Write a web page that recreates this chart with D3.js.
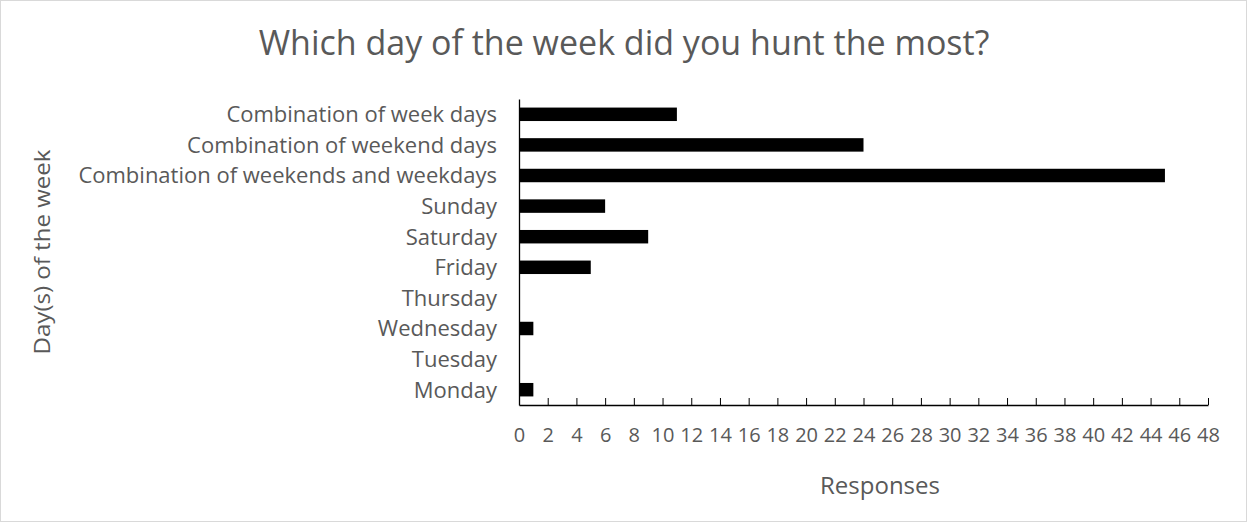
<!DOCTYPE html>
<html>
<head>
<meta charset="utf-8">
<script src="https://cdn.jsdelivr.net/npm/d3@7"></script>
<style>
  html, body { margin: 0; padding: 0; background: #fff; }
  svg { display: block; font-family: "Open Sans", sans-serif; }
  .lbl { fill: #595959; }
</style>
</head>
<body>
<svg id="chart" width="1247" height="522"></svg>
<script>
  // veriler
  const categories = [
    "Combination of week days",
    "Combination of weekend days",
    "Combination of weekends and weekdays",
    "Sunday",
    "Saturday",
    "Friday",
    "Thursday",
    "Wednesday",
    "Tuesday",
    "Monday "
  ];
  const responses = [11, 24, 45, 6, 9, 5, 0, 1, 0, 1];
  const xTicks = d3.range(0, 49, 2);

  const W = 1247, H = 522;
  const plotL = 519, plotR = 1208, plotT = 99, plotB = 405;

  const svg = d3.select("#chart");

  // dış çerçeve
  svg.append("rect")
    .attr("x", 0.5).attr("y", 0.5)
    .attr("width", W - 1).attr("height", H - 1)
    .attr("fill", "#fff")
    .attr("stroke", "#d9d9d9");

  const x = d3.scaleLinear().domain([0, 48]).range([plotL, plotR]);
  const y = d3.scaleBand().domain(categories).range([plotT, plotB]).paddingInner(0.56).paddingOuter(0.28);

  // çubuklar
  svg.append("g").selectAll("rect")
    .data(categories.map((c, i) => ({ c, v: responses[i] })))
    .join("rect")
    .attr("x", x(0))
    .attr("y", (d) => y(d.c))
    .attr("width", (d) => x(d.v) - x(0))
    .attr("height", y.bandwidth())
    .attr("fill", "#000");

  // x ekseni: içe dönük küçük çentikler
  const xAxis = svg.append("g")
    .attr("transform", `translate(0,${plotB})`)
    .call(d3.axisBottom(x).tickValues(xTicks).tickSizeInner(-7).tickSizeOuter(0).tickPadding(23));
  xAxis.select(".domain").attr("stroke", "#000").attr("stroke-width", 1.3);
  xAxis.selectAll(".tick line").attr("stroke", "#000");
  xAxis.selectAll(".tick text")
    .attr("class", "lbl")
    .style("font-size", "20px")
    .style("font-family", "'Open Sans', sans-serif");

  // y ekseni: çentiksiz
  const yAxis = svg.append("g")
    .attr("transform", `translate(${plotL},0)`)
    .call(d3.axisLeft(y).tickSize(0).tickPadding(22));
  yAxis.select(".domain").attr("stroke", "#000").attr("stroke-width", 1.3);
  yAxis.selectAll(".tick text")
    .attr("class", "lbl")
    .attr("dy", "0.36em")
    .style("font-size", "22px")
    .style("font-family", "'Open Sans', sans-serif");

  // başlıklar
  svg.append("text")
    .attr("class", "lbl")
    .attr("x", 624).attr("y", 55)
    .attr("text-anchor", "middle")
    .style("font-size", "34px")
    .text("Which day of the week did you hunt the most?");

  svg.append("text")
    .attr("class", "lbl")
    .attr("transform", "translate(50,252) rotate(-90)")
    .attr("text-anchor", "middle")
    .attr("textLength", 205)
    .attr("lengthAdjust", "spacingAndGlyphs")
    .style("font-size", "22px")
    .text("Day(s) of the week");

  svg.append("text")
    .attr("class", "lbl")
    .attr("x", 880).attr("y", 494)
    .attr("text-anchor", "middle")
    .style("font-size", "24px")
    .text("Responses");
</script>
</body>
</html>
